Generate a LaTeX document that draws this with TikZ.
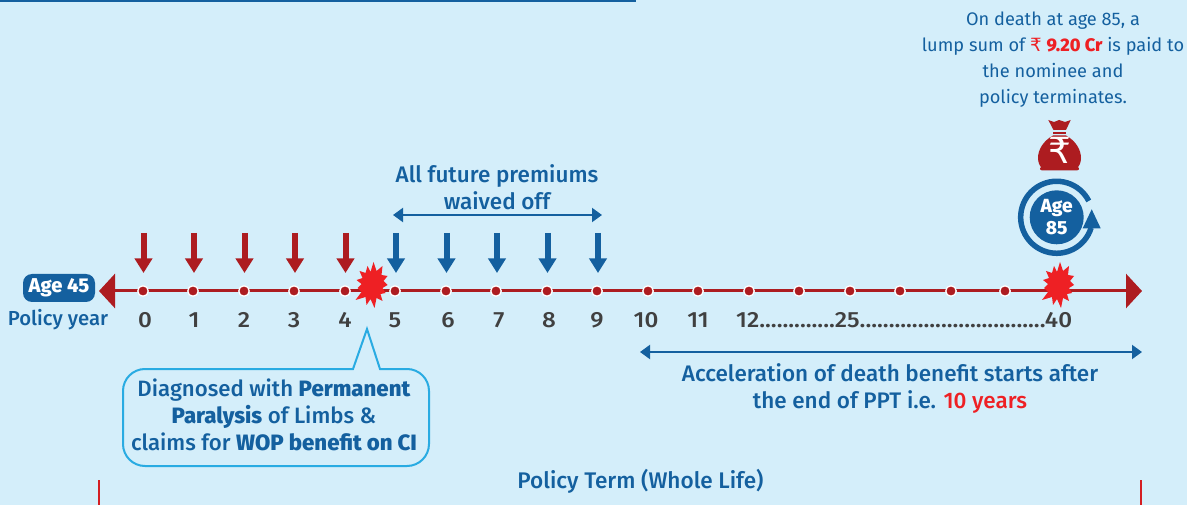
\documentclass[tikz,border=0pt]{standalone}
\usepackage{fontspec}
\usetikzlibrary{arrows.meta}
\setmainfont{Fira Sans Medium}[BoldFont={Fira Sans ExtraBold}]
\newfontfamily\regfont{Fira Sans}
\newfontfamily\rupfont{DejaVu Sans}
\definecolor{bgc}{HTML}{D4EEFA}
\definecolor{bluec}{HTML}{14609F}
\definecolor{redc}{HTML}{AD1C20}
\definecolor{brightc}{HTML}{EE2024}
\definecolor{greyc}{HTML}{404040}
\definecolor{skyc}{HTML}{29ABE2}
\tikzset{
 txt/.style={text=bluec,font=\fontsize{19}{26}\selectfont,align=center,inner sep=0pt},
 num/.style={text=greyc,font=\fontsize{22}{24}\selectfont,inner sep=0pt},
 payarrow/.style={line width=6pt,-{Triangle[length=14.5pt,width=17pt]}},
 span/.style={bluec,line width=2pt,{Triangle[length=10pt,width=14pt]}-{Triangle[length=10pt,width=14pt]}},
 burst/.pic={\fill[brightc] (2,-23)--(5,-14)--(11,-19)--(10,-10)--(16,-9)--(12,-4)--(16,0)--(11,3)--(14,8)--(9,9)--(11,16)--(5,13)--(3,23)--(-1,14)--(-5,20)--(-6,12)--(-16,15)--(-10,7)--(-14,3)--(-10,-1)--(-15,-5)--(-9,-7)--(-12,-14)--(-6,-12)--(-4,-19)--(-1,-13)--cycle;}
}
\begin{document}
\begin{tikzpicture}[x=1pt,y=-1pt]
\useasboundingbox (0,0) rectangle (1187,505);
\fill[bgc] (0,0) rectangle (1187,505);
\fill[bluec] (0,0) rectangle (636,2);
% axis
\coordinate (axL) at (99,291);
\coordinate (axR) at (1142,291);
\draw[redc,line width=3pt,{Triangle[length=16pt,width=34pt]}-{Triangle[length=16pt,width=34pt]}] (axL) -- (axR);
\foreach \n/\x in {0/143,1/193,2/244,3/294,4/345,5/395,6/446,7/496,8/547,9/597,10/648,11/698,12/749,13/799,14/850,15/900,16/951,17/1005}{
 \node[circle,fill=redc,draw=white,line width=1.3pt,minimum size=10.5pt,inner sep=0pt] (t\n) at (\x,291) {};
}
\foreach \x in {143.5,194,244.5,295,345.5}{
 \coordinate (s) at (\x,233); \coordinate (e) at (\x,273);
 \draw[payarrow,redc] (s) -- (e);
}
\foreach \x in {396,446.5,497,547.5,598}{
 \coordinate (s) at (\x,233); \coordinate (e) at (\x,273);
 \draw[payarrow,bluec] (s) -- (e);
}
\pic at (371.5,285) {burst};
\pic at (1058,285) {burst};
% labels
\node[fill=bluec,rounded corners=9pt,minimum width=72pt,minimum height=28pt,inner sep=0pt,text=white,font=\fontsize{20}{22}\selectfont\bfseries] (age45) at (59,288) {Age 45};
\node[txt,font=\fontsize{20.3}{22}\selectfont] (py) at (58,320) {Policy year};
\foreach \n/\x in {0/145,1/194,2/244,3/294,4/345,5/395,6/448,7/499,8/549,9/597,10/646,11/698}{
 \node[num] (l\n) at (\x,320) {\scalebox{1.1}[1]{\n}};
}
\node[num,anchor=west] (rest) at (736,320) {\scalebox{1.1}[1]{12.............25................................40}};
% future premiums
\node[txt,font=\fontsize{22.5}{27}\selectfont] (fp) at (497,187) {All future premiums\\waived off};
\coordinate (fa) at (393,215); \coordinate (fb) at (602,215);
\draw[span] (fa) -- (fb);
\coordinate (ga) at (640,352); \coordinate (gb) at (1142,352);
\draw[span] (ga) -- (gb);
\node[txt,font=\fontsize{22.5}{27}\selectfont] (acc) at (890,388) {Acceleration of death benefit starts after\\the end of PPT i.e. \textcolor{brightc}{10 years}};
% callout
\draw[skyc,line width=2pt,fill=bgc,rounded corners=0pt]
 (353,369) -- (367,329) -- (380,369) -- (407,369)
 arc[start angle=90,end angle=0,radius=22pt] -- (429,444)
 arc[start angle=0,end angle=-90,radius=22pt] -- (145,466)
 arc[start angle=-90,end angle=-180,radius=22pt] -- (123,391)
 arc[start angle=180,end angle=90,radius=22pt] -- cycle;
\node[txt,font=\fontsize{22.2}{27}\selectfont] (dx) at (274,415) {Diagnosed with \textbf{Permanent}\\\textbf{Paralysis} of Limbs \&\\claims for \textbf{WOP benefit on CI}};
% top right
\node[txt,font=\fontsize{18.2}{26}\selectfont\regfont] (death) at (1053,59.5) {On death at age 85, a\\lump sum of {\color{brightc}\rupfont ₹} {\color{brightc}\fontspec{Fira Sans ExtraBold}9.20 Cr} is paid to\\the nominee and\\policy terminates.};
% bag
\fill[redc] (1048.3,120) -- (1054,122) -- (1059,120) -- (1065,122) -- (1070.7,120) -- (1066,130) -- (1053.5,130) -- cycle;
\fill[redc] (1053,132) rectangle (1066,134.5);
\fill[redc] (1053,135.5) .. controls (1043,141) and (1038,150) .. (1038,158) .. controls (1038,163) and (1040,166) .. (1041,167) .. controls (1039,169) and (1040,170.5) .. (1044,170.5) -- (1075,170.5) .. controls (1079,170.5) and (1080,169) .. (1078,167) .. controls (1079,166) and (1081,163) .. (1081,158) .. controls (1081,150) and (1076,141) .. (1066,135.5) -- cycle;
\node[text=white,inner sep=0pt,font=\fontsize{36}{36}\selectfont\rupfont] (rup) at (1059.5,150) {₹};
% ring
\draw[bluec,line width=5.5pt] (1091.1,227.8) arc[start angle=-17,end angle=-333,radius=36pt];
\fill[bluec] (1091.7,209.3) -- (1100.7,228.3) -- (1082.7,228.3) -- cycle;
\node[circle,fill=bluec,minimum size=54pt,inner sep=0pt,text=white,align=center,font=\fontsize{19}{22}\selectfont\bfseries] (age85) at (1056.7,217.3) {Age\\85};
% term
\node[txt,font=\fontsize{22.6}{24}\selectfont] (term) at (640.5,481) {Policy Term (Whole Life)};
\coordinate (ra) at (99,480); \coordinate (rb) at (99,505);
\coordinate (rc) at (1141,480); \coordinate (rd) at (1141,505);
\draw[brightc!60!redc,line width=2.5pt] (ra) -- (rb) (rc) -- (rd);
\end{tikzpicture}
\end{document}
